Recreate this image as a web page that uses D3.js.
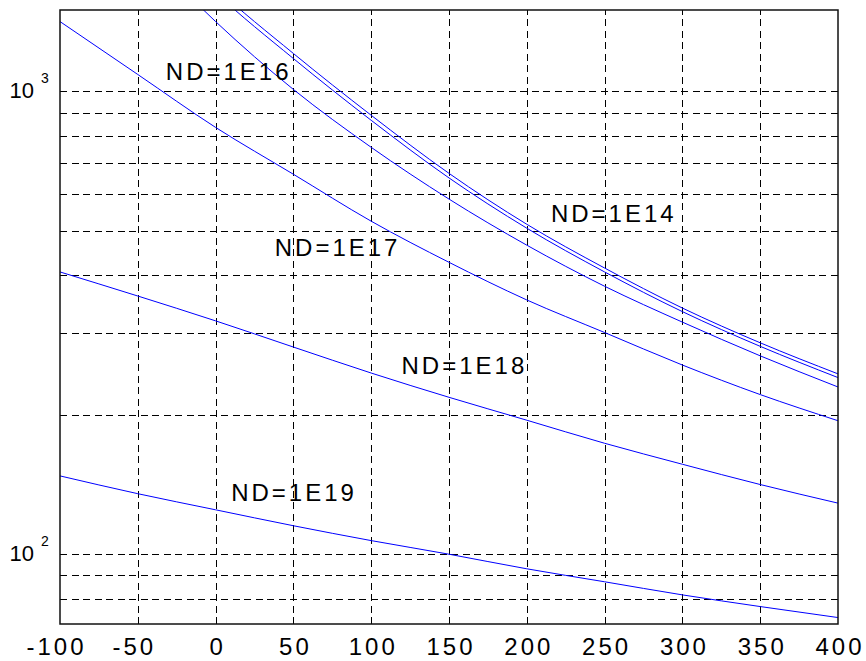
<!DOCTYPE html>
<html>
<head>
<meta charset="utf-8">
<script src="https://d3js.org/d3.v7.min.js"></script>
<style>
  body { margin: 0; background: #fff; }
  text { font-family: "Liberation Sans", Arial, sans-serif; fill: #000; }
  .grid line { stroke: #000; stroke-width: 1; stroke-dasharray: 7,4.5; shape-rendering: crispEdges; }
  .grid .domain { display: none; }
  .curve { fill: none; stroke: #0000ff; stroke-width: 1; }
</style>
</head>
<body>
<div id="chart"></div>
<script>
// temperature (x axis) and mobility values per doping level
const temps   = [-100, -50, 0, 50, 100, 150, 200, 250, 300, 350, 400];
const mu1e14  = [3750, 2485, 1677, 1208, 888, 665, 516, 415, 340, 286, 245];
const mu1e15  = [3660, 2424, 1636, 1178, 866, 650, 506, 407, 334, 281, 240.5];
const mu1e16  = [3155, 2088, 1416, 1010, 757, 585, 465, 379, 317, 268, 229.5];
const mu1e17  = [1416, 1088, 836, 662, 524, 427, 354, 301, 256, 221, 194];
const mu1e18  = [407, 361, 319, 280, 246, 218, 194.5, 173.4, 156.2, 141.2, 128.7];
const mu1e19  = [147.4, 134.9, 124.5, 115, 106.8, 99.8, 92.8, 87, 81.5, 76.9, 72.8];

const labelText = ["ND=1E16", "ND=1E14", "ND=1E17", "ND=1E18", "ND=1E19"];
const labelT    = [-32, 215.5, 38, 119.5, 10];
const labelMu   = [1061, 521, 441, 245, 130];

const xTicks    = [-100, -50, 0, 50, 100, 150, 200, 250, 300, 350, 400];
const yGrid     = [80, 90, 100, 200, 300, 400, 500, 600, 700, 800, 900, 1000];
const yLabelVal = [100, 1000];
const yLabelExp = ["2", "3"];

const W = 866, H = 661;
const pL = 60, pR = 838, pT = 10, pB = 624;

const svg = d3.select("#chart").append("svg")
    .attr("width", W)
    .attr("height", H);

const x = d3.scaleLinear().domain([-100, 400]).range([pL, pR]);
const y = d3.scaleLog().domain([70.5, 1500]).range([pB, pT]);

// grid
svg.append("g")
    .attr("class", "grid")
    .attr("transform", `translate(0,${pB})`)
    .call(d3.axisBottom(x).tickValues(xTicks.slice(1, -1)).tickSize(-(pB - pT)).tickFormat(""));

svg.append("g")
    .attr("class", "grid")
    .attr("transform", `translate(${pL},0)`)
    .call(d3.axisLeft(y).tickValues(yGrid).tickSize(-(pR - pL)).tickFormat(""));

// curves
svg.append("clipPath").attr("id", "plotClip")
    .append("rect")
    .attr("x", pL).attr("y", pT)
    .attr("width", pR - pL).attr("height", pB - pT);

const series = [mu1e14, mu1e15, mu1e16, mu1e17, mu1e18, mu1e19];

const line = d3.line()
    .x((d, i) => x(temps[i]))
    .y(d => y(d))
    .curve(d3.curveMonotoneX);

svg.append("g")
    .attr("clip-path", "url(#plotClip)")
    .selectAll("path")
    .data(series)
    .enter()
    .append("path")
    .attr("class", "curve")
    .attr("d", line);

// frame
svg.append("rect")
    .attr("x", pL).attr("y", pT)
    .attr("width", pR - pL).attr("height", pB - pT)
    .attr("fill", "none")
    .attr("stroke", "#111")
    .attr("stroke-width", 1.5);

// x tick labels
const xAxis = svg.append("g")
    .attr("transform", `translate(0,${pB})`)
    .call(d3.axisBottom(x).tickValues(xTicks).tickSize(0).tickFormat(d => d));
xAxis.select(".domain").remove();
xAxis.selectAll(".tick text")
    .attr("y", 31)
    .attr("dy", 0)
    .attr("dx", d => d < 0 ? -4 : 1.5)
    .style("font-size", "24px")
    .style("letter-spacing", "3px")
    .style("font-family", "'Liberation Sans', Arial, sans-serif")
    .attr("fill", "#000");

// y tick labels (10^n)
const yAxis = svg.append("g")
    .attr("transform", `translate(${pL},0)`)
    .call(d3.axisLeft(y).tickValues(yLabelVal).tickSize(0).tickFormat(""));
yAxis.select(".domain").remove();
yAxis.selectAll(".tick text")
    .attr("x", -50.5)
    .attr("dy", 6.5)
    .attr("text-anchor", "start")
    .style("font-family", "'Liberation Sans', Arial, sans-serif")
    .attr("fill", "#000")
    .each(function(d, i) {
        const t = d3.select(this);
        t.append("tspan").style("font-size", "22px").text("10");
        t.append("tspan").style("font-size", "14px").attr("dx", 7).attr("dy", -15).text(yLabelExp[i]);
    });

// curve labels
svg.append("g")
    .selectAll("text")
    .data(labelText)
    .enter()
    .append("text")
    .attr("x", (d, i) => x(labelT[i]))
    .attr("y", (d, i) => y(labelMu[i]))
    .style("font-size", "24px")
    .style("letter-spacing", "3px")
    .text(d => d);
</script>
</body>
</html>
